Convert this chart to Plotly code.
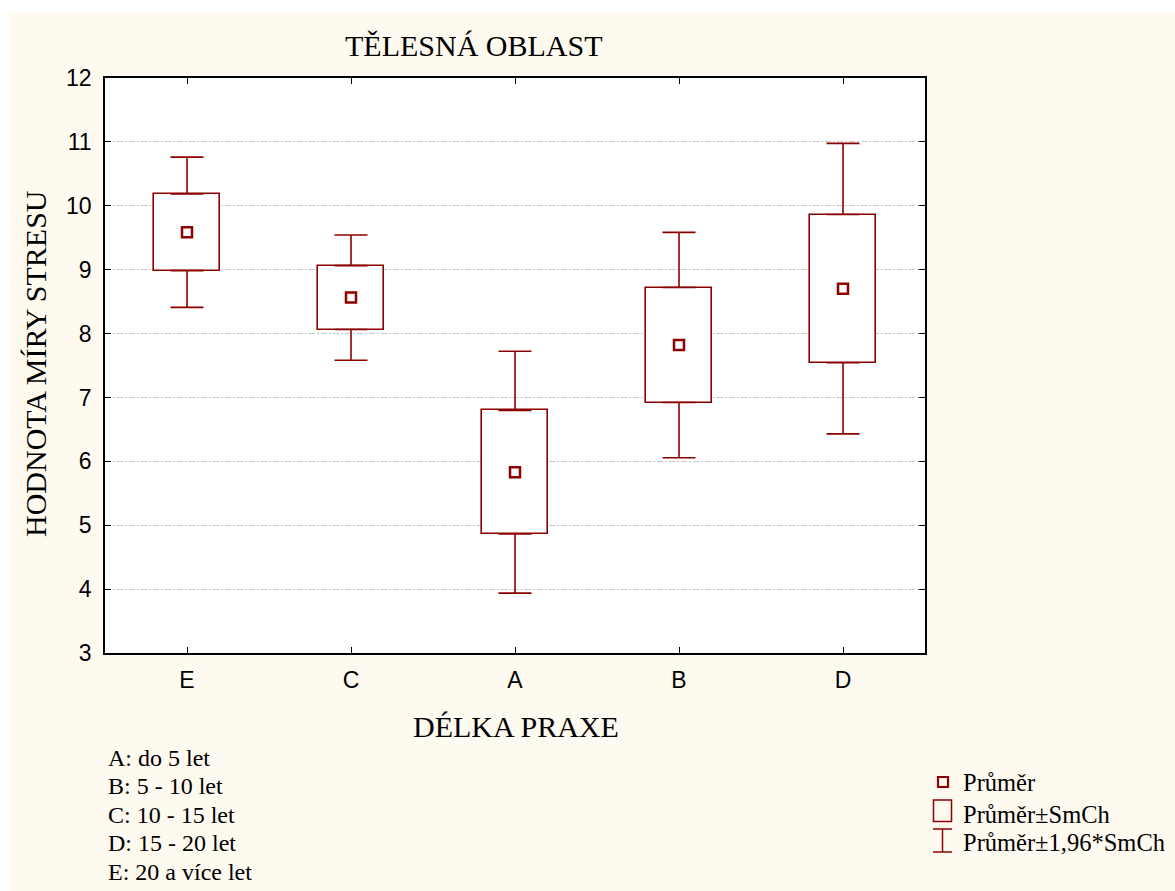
import plotly.graph_objects as go

# ---- data ----
categories = ["E", "C", "A", "B", "D"]
means = [9.585, 8.5625, 5.83, 7.82, 8.703]
se = [0.60, 0.50, 0.966, 0.90, 1.16]
ci_factor = 1.96

y_ticks = [3, 4, 5, 6, 7, 8, 9, 10, 11, 12]
legend_notes = ["A: do 5 let", "B: 5 - 10 let", "C: 10 - 15 let",
                "D: 15 - 20 let", "E: 20 a více let"]
legend_labels = ["Průměr", "Průměr±SmCh", "Průměr±1,96*SmCh"]

# ---- layout geometry (pixels) ----
W, H = 1175, 891
L, R, T, B = 105, 925, 78, 653
PW, PH = R - L, B - T


def px(x):
    return (x - L) / PW


def py(y):
    return (B - y) / PH


DARK = "#8b0000"
CREAM = "#fffaf0"
SERIF = "Liberation Serif, Times New Roman, serif"
SANS = "Liberation Sans, Arial, sans-serif"

box_low = [m - s for m, s in zip(means, se)]
box_high = [m + s for m, s in zip(means, se)]
box_h = [2 * s for s in se]
whisk = [ci_factor * s - s for s in se]
zeros = [0] * len(se)

fig = go.Figure()

# box (mean ± SE)
fig.add_trace(go.Bar(
    x=categories, y=box_h, base=box_low, width=0.4,
    marker=dict(color="white", line=dict(color=DARK, width=1.6)),
    showlegend=False, hoverinfo="skip"))

# upper whiskers
fig.add_trace(go.Scatter(
    x=categories, y=box_high, mode="markers",
    marker=dict(size=1, color="rgba(0,0,0,0)"),
    error_y=dict(type="data", array=whisk, arrayminus=zeros, symmetric=False,
                 color=DARK, thickness=1.6, width=16.5),
    showlegend=False, hoverinfo="skip"))

# lower whiskers
fig.add_trace(go.Scatter(
    x=categories, y=box_low, mode="markers",
    marker=dict(size=1, color="rgba(0,0,0,0)"),
    error_y=dict(type="data", array=zeros, arrayminus=whisk, symmetric=False,
                 color=DARK, thickness=1.6, width=16.5),
    showlegend=False, hoverinfo="skip"))

# means
fig.add_trace(go.Scatter(
    x=categories, y=means, mode="markers",
    marker=dict(symbol="square-open", size=10, color=DARK, line=dict(width=2.5)),
    showlegend=False, hoverinfo="skip"))

shapes = [
    # white outer margin (top and left)
    dict(type="rect", xref="paper", yref="paper", x0=px(0), x1=px(W), y0=py(12), y1=py(0),
         fillcolor="white", line=dict(width=0), layer="below"),
    dict(type="rect", xref="paper", yref="paper", x0=px(0), x1=px(9), y0=py(H), y1=py(0),
         fillcolor="white", line=dict(width=0), layer="below"),
    # legend symbols
    dict(type="rect", xref="paper", yref="paper", x0=px(938), x1=px(948), y0=py(787), y1=py(777),
         line=dict(color=DARK, width=2.2)),
    dict(type="rect", xref="paper", yref="paper", x0=px(933.5), x1=px(951.5), y0=py(821.5), y1=py(800),
         line=dict(color=DARK, width=1.5)),
    dict(type="line", xref="paper", yref="paper", x0=px(942.5), x1=px(942.5), y0=py(852), y1=py(829),
         line=dict(color=DARK, width=1.5)),
    dict(type="line", xref="paper", yref="paper", x0=px(933), x1=px(952), y0=py(829), y1=py(829),
         line=dict(color=DARK, width=1.5)),
    dict(type="line", xref="paper", yref="paper", x0=px(933), x1=px(952), y0=py(852), y1=py(852),
         line=dict(color=DARK, width=1.5)),
]

annotations = [
    dict(text="TĚLESNÁ OBLAST", x=px(474), y=py(45), xref="paper", yref="paper",
         xanchor="center", yanchor="middle", showarrow=False,
         font=dict(family=SERIF, size=30, color="black")),
    dict(text="DÉLKA PRAXE", x=px(516), y=py(726), xref="paper", yref="paper",
         xanchor="center", yanchor="middle", showarrow=False,
         font=dict(family=SERIF, size=30, color="black")),
    dict(text="HODNOTA MÍRY STRESU", x=px(35), y=py(364), xref="paper", yref="paper",
         xanchor="center", yanchor="middle", showarrow=False, textangle=-90,
         font=dict(family=SERIF, size=30, color="black")),
]

note_y = [758, 786, 815, 843, 872]
for txt, yy in zip(legend_notes, note_y):
    annotations.append(dict(text=txt, x=px(106), y=py(yy), xref="paper", yref="paper",
                            xanchor="left", yanchor="middle", showarrow=False,
                            font=dict(family=SERIF, size=24, color="black")))

leg_y = [782, 814, 843]
for txt, yy in zip(legend_labels, leg_y):
    annotations.append(dict(text=txt, x=px(961), y=py(yy), xref="paper", yref="paper",
                            xanchor="left", yanchor="middle", showarrow=False,
                            font=dict(family=SERIF, size=24.5, color="black")))

fig.update_layout(
    width=W, height=H,
    margin=dict(l=L, r=W - R, t=T, b=H - B, pad=0),
    paper_bgcolor=CREAM, plot_bgcolor="white",
    shapes=shapes, annotations=annotations,
    showlegend=False, bargap=0,
    xaxis=dict(type="category", categoryorder="array", categoryarray=categories,
               range=[-0.5, 4.5], showgrid=False, zeroline=False,
               showline=True, linecolor="black", linewidth=1.5, mirror="ticks",
               ticks="inside", ticklen=6, tickwidth=1.2, tickcolor="black",
               ticklabelstandoff=6,
               tickfont=dict(family=SANS, size=23, color="black")),
    yaxis=dict(range=[3, 12], tickvals=y_ticks, showgrid=True, gridcolor="#c8c8c8",
               gridwidth=1, griddash="6px,2px,2px,2px", zeroline=False,
               showline=True, linecolor="black", linewidth=1.5, mirror="ticks",
               ticks="inside", ticklen=6, tickwidth=1.2, tickcolor="black",
               ticklabelstandoff=7,
               tickfont=dict(family=SANS, size=23, color="black")),
)

fig.write_html("out.html")
